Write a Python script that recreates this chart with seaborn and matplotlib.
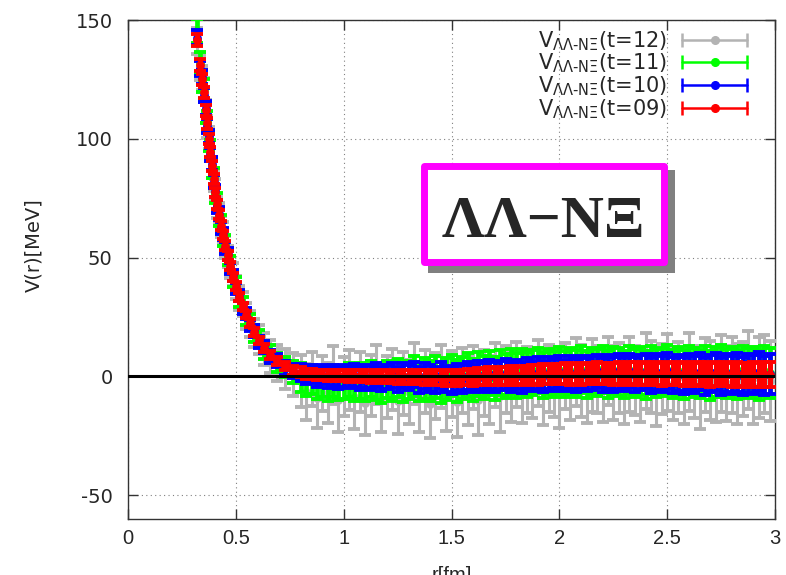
import matplotlib
matplotlib.use("Agg")
import matplotlib.pyplot as plt
import numpy as np
import pandas as pd
import seaborn as sns
from matplotlib.lines import Line2D
from matplotlib.patches import Rectangle
from matplotlib.legend_handler import HandlerLine2D

# ---------------------------------------------------------------- data
# separations r [fm]
r_fm = [
    0.318, 0.335, 0.345, 0.352, 0.360, 0.367, 0.374, 0.381, 0.389, 0.397,
    0.405, 0.413, 0.422, 0.431, 0.441, 0.451, 0.462, 0.474, 0.487, 0.500,
    0.515, 0.531, 0.548, 0.566, 0.586, 0.608, 0.632, 0.660, 0.692, 0.728,
    0.765,
    0.800, 0.826, 0.851, 0.875, 0.900, 0.926, 0.950, 0.975, 1.001, 1.025,
    1.050, 1.076, 1.100, 1.125, 1.151, 1.175, 1.200, 1.226, 1.250, 1.275,
    1.301, 1.325, 1.350, 1.376, 1.400, 1.425, 1.451, 1.475, 1.500, 1.526,
    1.550, 1.575, 1.601, 1.625, 1.650, 1.676, 1.700, 1.725, 1.751, 1.775,
    1.800, 1.826, 1.850, 1.875, 1.901, 1.925, 1.950, 1.976, 2.000, 2.025,
    2.051, 2.075, 2.100, 2.126, 2.150, 2.175, 2.201, 2.225, 2.250, 2.276,
    2.300, 2.325, 2.351, 2.375, 2.400, 2.426, 2.450, 2.475, 2.501, 2.525,
    2.550, 2.576, 2.600, 2.625, 2.651, 2.675, 2.700, 2.726, 2.750, 2.775,
    2.801, 2.825, 2.850, 2.876, 2.900, 2.925, 2.951, 2.978,
]

# V(r) [MeV] and statistical errors, imaginary-time slices t = 12, 11, 10, 09
v_t12 = [
    141.0, 130.0, 125.5, 120.5, 111.5, 105.0, 100.5, 95.0, 88.0, 82.5,
    78.5, 71.0, 68.5, 63.0, 60.5, 54.5, 50.5, 46.0, 43.0, 37.5,
    33.0, 30.5, 25.5, 22.0, 18.4, 15.6, 11.5, 8.5, 5.5, 3.2,
    0.8,
    -2.0, -6.5, -1.0, -9.2, -3.0, -7.0, 0.5, -10.0, -4.2, -1.5,
    -8.8, -2.5, -11.0, -3.8, 0.8, -9.5, -4.5, -1.2, -10.2, -3.0,
    -6.6, 1.2, -9.0, -2.2, -11.5, -4.0, 0.0, -8.5, -3.2, -10.8,
    -1.8, -6.2, -0.5, -9.8, -2.8, -5.6, 0.6, -8.2, -1.4, -4.6,
    0.9, -4.8, -1.6, -3.0, 1.5, -5.5, -0.8, -2.4, -6.4, 0.2,
    -3.4, 1.8, -2.0, -5.0, 0.4, -1.2, -4.2, 2.2, -2.6, -0.6,
    -4.8, 1.0, -1.8, -3.6, 2.4, -0.2, -5.2, -1.0, 1.6, -3.0,
    -0.4, -4.4, 2.0, -2.2, -6.0, 0.6, -1.6, -3.8, 1.4, -2.8,
    0.8, -3.2, -1.0, 2.6, -4.0, -0.6, 1.2, -2.0,
]
e_t12 = [
    5.5, 5.2, 5.0, 4.9, 4.8, 4.7, 4.6, 4.5, 4.5, 4.4,
    4.4, 4.4, 4.4, 4.4, 4.5, 4.5, 4.6, 4.7, 4.8, 4.9,
    5.0, 5.2, 5.4, 5.6, 5.9, 6.2, 6.6, 7.0, 7.6, 8.3,
    9.2,
    11.0, 11.8, 11.4, 12.6, 11.6, 12.8, 12.2, 13.2, 12.5, 12.8,
    13.4, 12.6, 13.8, 13.0, 12.4, 14.0, 13.2, 12.8, 14.2, 13.4,
    13.6, 13.0, 14.4, 13.4, 14.6, 13.8, 13.2, 14.4, 13.7, 14.8,
    13.8, 14.3, 13.4, 14.8, 14.0, 14.4, 13.6, 15.0, 14.2, 14.6,
    13.6, 14.8, 14.0, 14.4, 13.8, 15.0, 14.2, 14.6, 15.2, 14.0,
    14.8, 14.2, 15.2, 14.6, 15.4, 14.0, 15.0, 14.4, 15.6, 14.8,
    15.2, 15.8, 14.6, 15.4, 16.0, 15.0, 15.6, 14.8, 16.2, 15.4,
    15.0, 15.8, 16.4, 15.2, 16.0, 15.6, 16.6, 15.4, 16.2, 15.8,
    16.0, 16.8, 15.6, 16.4, 16.2, 17.0, 16.4, 16.8,
]

v_t11 = [
    145.5, 132.0, 124.0, 121.0, 111.0, 107.5, 99.0, 95.5, 87.5, 84.0,
    76.5, 73.5, 67.0, 64.5, 58.5, 56.0, 50.0, 47.5, 41.0, 38.5,
    32.5, 30.0, 25.0, 23.0, 18.0, 15.8, 11.2, 9.3, 5.8, 4.0,
    1.8,
    -0.5, -2.0, -1.2, -3.1, -2.2, -3.5, -1.8, -3.0, -2.6, -1.5,
    -3.2, -2.0, -2.8, -1.0, -2.4, -3.3, -1.4, -2.2, -0.6, -2.7,
    -1.6, 0.2, -2.1, -0.9, -1.8, -0.3, -2.5, -1.2, 0.4, -1.9,
    -0.8, 0.6, -1.5, 0.9, -0.4, 1.3, -0.9, 1.6, 0.2, 1.9,
    0.5, 2.2, 0.9, 1.7, 2.6, 0.6, 2.1, 1.2, 2.8, 1.0,
    2.4, 1.3, 2.9, 0.8, 2.2, 1.6, 3.0, 1.1, 2.5, 1.8,
    0.9, 2.7, 1.5, 2.3, 0.6, 2.8, 1.4, 2.0, 2.9, 1.2,
    2.2, 0.7, 2.6, 1.5, 1.0, 2.4, 0.5, 1.9, 2.7, 1.1,
    2.0, 0.8, 2.5, 1.3, 1.8, 0.6, 2.2, 1.5,
]
e_t11 = [
    5.0, 4.6, 4.4, 4.3, 4.2, 4.1, 4.0, 3.9, 3.8, 3.7,
    3.6, 3.6, 3.5, 3.5, 3.4, 3.4, 3.3, 3.3, 3.3, 3.3,
    3.3, 3.3, 3.4, 3.4, 3.5, 3.6, 3.7, 3.8, 4.0, 4.2,
    4.5,
    6.0, 6.3, 6.2, 6.6, 6.5, 6.9, 6.8, 7.1, 7.0, 7.3,
    7.2, 7.5, 7.4, 7.7, 7.6, 7.9, 7.8, 8.1, 8.0, 8.2,
    8.1, 8.4, 8.3, 8.6, 8.5, 8.7, 8.6, 8.9, 8.8, 9.0,
    8.9, 9.1, 9.0, 9.2, 9.1, 9.3, 9.2, 9.4, 9.3, 9.5,
    9.4, 9.5, 9.5, 9.6, 9.5, 9.7, 9.6, 9.7, 9.6, 9.8,
    9.7, 9.8, 9.7, 9.9, 9.8, 9.9, 9.8, 10.0, 9.9, 10.0,
    9.9, 10.0, 10.1, 10.0, 10.1, 10.0, 10.2, 10.1, 10.2, 10.1,
    10.2, 10.3, 10.2, 10.3, 10.2, 10.4, 10.3, 10.4, 10.4, 10.3,
    10.4, 10.5, 10.4, 10.5, 10.5, 10.6, 10.6, 10.5,
]

v_t10 = [
    142.5, 129.5, 126.0, 118.5, 113.0, 105.5, 101.0, 93.5, 89.5, 82.0,
    78.0, 71.5, 68.5, 62.5, 60.0, 54.0, 51.5, 45.5, 42.5, 37.0,
    34.0, 28.5, 26.5, 21.5, 19.2, 14.5, 12.4, 8.4, 6.8, 3.6,
    2.4,
    1.5, 0.6, 1.2, -0.2, 0.8, -0.5, 0.4, -0.8, 0.2, -0.4,
    0.5, -0.9, 0.1, -0.6, 0.6, -1.0, -0.2, 0.4, -1.2, 0.3,
    -0.5, 0.8, -1.4, 0.2, -0.8, -1.6, 0.5, -1.1, -1.8, -0.4,
    -1.2, 0.3, -0.9, 0.6, -0.5, 0.9, -0.3, 0.4, 1.0, -0.2,
    0.8, -0.4, 1.2, 0.3, 1.5, 0.0, 1.3, 0.6, 1.8, 0.4,
    1.6, 0.5, 2.0, 0.8, 1.4, 2.2, 0.6, 1.8, 0.9, 2.1,
    1.0, 2.3, 0.7, 1.6, 2.0, 0.5, 1.9, 1.1, 2.2, 0.6,
    1.5, 0.4, 1.8, 0.8, 2.0, 0.3, 1.2, 1.7, 0.2, 1.4,
    0.6, 1.6, 0.1, 1.3, 0.8, 1.9, 0.4, 1.0,
]
e_t10 = [
    3.2, 3.1, 3.0, 3.0, 2.9, 2.9, 2.8, 2.8, 2.7, 2.7,
    2.6, 2.6, 2.6, 2.5, 2.5, 2.5, 2.4, 2.4, 2.4, 2.4,
    2.4, 2.4, 2.4, 2.4, 2.4, 2.5, 2.5, 2.6, 2.7, 2.8,
    2.9,
    3.6, 3.9, 3.8, 4.2, 4.1, 4.4, 4.3, 4.6, 4.7, 4.6,
    4.8, 4.7, 4.9, 5.0, 4.9, 5.1, 5.0, 5.2, 5.3, 5.2,
    5.3, 5.4, 5.5, 5.4, 5.6, 5.5, 5.7, 5.6, 5.8, 5.7,
    5.8, 5.9, 5.8, 6.0, 6.1, 6.0, 6.2, 6.1, 6.3, 6.2,
    6.3, 6.4, 6.5, 6.4, 6.6, 6.5, 6.7, 6.6, 6.8, 6.7,
    6.8, 6.9, 6.8, 7.0, 7.1, 7.0, 7.2, 7.1, 7.3, 7.2,
    7.3, 7.2, 7.4, 7.5, 7.4, 7.6, 7.5, 7.6, 7.7, 7.6,
    7.7, 7.8, 7.7, 7.9, 7.8, 8.0, 7.9, 8.0, 8.1, 8.0,
    8.1, 8.2, 8.1, 8.2, 8.3, 8.2, 8.3, 8.4,
]

v_t09 = [
    141.5, 131.0, 125.0, 119.5, 112.0, 106.5, 100.0, 94.5, 88.5, 83.0,
    77.5, 72.5, 68.0, 63.5, 59.5, 55.0, 51.0, 46.5, 42.0, 38.0,
    33.5, 29.5, 26.0, 22.5, 18.8, 15.2, 12.0, 9.0, 6.5, 4.2,
    2.6,
    1.8, 1.2, 0.9, 0.6, 0.7, 0.3, 0.5, 0.2, 0.4, 0.1,
    0.3, 0.0, 0.2, -0.1, 0.2, 0.0, -0.2, 0.1, -0.3, 0.0,
    -0.2, -0.4, -0.1, -0.5, -0.3, -0.6, -0.4, -0.8, -0.5, -0.7,
    -0.4, -0.2, -0.5, 0.0, -0.2, 0.2, 0.0, 0.3, 0.1, 0.4,
    0.3, 0.6, 0.4, 0.8, 0.6, 1.0, 0.8, 1.2, 1.0, 1.3,
    0.8, 1.2, 1.0, 1.3, 1.1, 1.4, 1.2, 1.3, 1.0, 1.4,
    1.1, 1.4, 1.2, 1.0, 1.3, 1.1, 1.2, 0.9, 1.1, 1.0,
    1.2, 0.9, 1.0, 0.8, 1.1, 0.9, 0.7, 1.0, 0.8, 0.9,
    0.6, 0.9, 0.7, 0.5, 0.8, 0.6, 0.9, 0.7,
]
e_t09 = [
    2.5, 2.4, 2.3, 2.3, 2.2, 2.2, 2.1, 2.1, 2.0, 2.0,
    2.0, 1.9, 1.9, 1.9, 1.8, 1.8, 1.8, 1.7, 1.7, 1.7,
    1.7, 1.6, 1.6, 1.6, 1.6, 1.6, 1.6, 1.6, 1.7, 1.7,
    1.8,
    2.0, 2.1, 2.1, 2.2, 2.2, 2.3, 2.3, 2.3, 2.4, 2.4,
    2.4, 2.5, 2.5, 2.5, 2.6, 2.6, 2.6, 2.7, 2.7, 2.8,
    2.8, 2.9, 2.9, 3.0, 3.0, 3.1, 3.1, 3.2, 3.2, 3.3,
    3.3, 3.4, 3.4, 3.5, 3.5, 3.6, 3.6, 3.7, 3.7, 3.8,
    3.8, 3.9, 3.9, 4.0, 4.0, 4.1, 4.1, 4.2, 4.2, 4.3,
    4.3, 4.3, 4.4, 4.4, 4.4, 4.5, 4.5, 4.5, 4.6, 4.6,
    4.6, 4.6, 4.7, 4.7, 4.7, 4.7, 4.8, 4.8, 4.8, 4.8,
    4.8, 4.9, 4.9, 4.9, 4.9, 5.0, 5.0, 5.0, 5.0, 5.0,
    5.1, 5.1, 5.1, 5.1, 5.2, 5.2, 5.2, 5.2,
]

series_t = ["12", "11", "10", "09"]
series_colors = ["#b3b3b3", "#00ff00", "#0000ff", "#ff0000"]
bar_widths = [2.2, 3.4, 3.4, 3.6]

x_ticks = [0.0, 0.5, 1.0, 1.5, 2.0, 2.5, 3.0]
x_tick_labels = ["0", "0.5", "1", "1.5", "2", "2.5", "3"]
y_ticks = [-50, 0, 50, 100, 150]
y_tick_labels = ["-50", "0", "50", "100", "150"]

# ---------------------------------------------------------------- frame
frames = []
for t, vals, errs in zip(series_t, [v_t12, v_t11, v_t10, v_t09],
                         [e_t12, e_t11, e_t10, e_t09]):
    frames.append(pd.DataFrame({"r": r_fm, "V": vals, "err": errs, "t": t}))
df = pd.concat(frames, ignore_index=True)

# ---------------------------------------------------------------- style
sns.set_style("ticks")
plt.rcParams["font.family"] = ["DejaVu Sans"]
plt.rcParams["mathtext.fontset"] = "dejavusans"
plt.rcParams["mathtext.default"] = "regular"
xfont = ["Liberation Sans", "DejaVu Sans"]

W, H = 786, 575
fig = plt.figure(figsize=(W / 100, H / 100), dpi=100)
L, R, T, B = 128, 775, 20, 519
ax = fig.add_axes([L / W, 1 - B / H, (R - L) / W, (B - T) / H])

def ax_x(px):
    return (px - L) / (R - L)

def ax_y(py):
    return (B - py) / (B - T)

# ---------------------------------------------------------------- data marks
for k, (t, color, bw) in enumerate(zip(series_t, series_colors, bar_widths)):
    sub = df[df["t"] == t]
    ax.errorbar(sub["r"], sub["V"], yerr=sub["err"], fmt="none",
                ecolor=color, elinewidth=bw, capsize=4.0, capthick=2.8,
                zorder=3 + 2 * k)
    sns.scatterplot(data=sub, x="r", y="V", color=color, s=40, linewidth=0,
                    ax=ax, zorder=4 + 2 * k, legend=False)

ax.axhline(0, color="black", lw=2.2, zorder=20)

# ---------------------------------------------------------------- axes
ax.set_xlim(0, 3)
ax.set_ylim(-60, 150)
ax.set_xticks(x_ticks, labels=x_tick_labels, fontsize=14.5, family=xfont)
ax.set_yticks(y_ticks, labels=y_tick_labels, fontsize=14)
ax.tick_params(axis="both", direction="in", length=7, width=1,
               top=True, right=True, color="#333333")
ax.tick_params(axis="x", pad=7.5)
ax.tick_params(axis="y", pad=11)
ax.grid(True, color="#808080", linestyle=(0, (1, 3)), linewidth=0.8)
ax.set_axisbelow(True)
for sp in ax.spines.values():
    sp.set_color("#333333")
    sp.set_linewidth(1.0)

ax.set_xlabel("r[fm]", fontsize=14.5, family=xfont)
ax.xaxis.set_label_coords(0.5, ax_y(566))
ax.set_ylabel("V(r)[MeV]", fontsize=14)
ax.yaxis.set_label_coords(ax_x(43), ax_y(245))

# ---------------------------------------------------------------- legend
handles, labels = [], []
handler_map = {}
for t, color in zip(series_t, series_colors):
    body = Line2D([], [], color=color, lw=1.8, marker="o", ms=5.5,
                  mec=color, mfc=color)
    caps = Line2D([], [], color=color, ls="none", marker="|", ms=10, mew=1.8)
    handler_map[caps] = HandlerLine2D(numpoints=2, marker_pad=0)
    handles.append((body, caps))
    labels.append(r"$V_{\Lambda\Lambda\text{-}N\Xi}$" + f"(t={t})")

ax.legend(handles, labels, handler_map=handler_map, loc="upper right",
          bbox_to_anchor=(ax_x(747), ax_y(29)), frameon=False,
          markerfirst=False, fontsize=15, handlelength=3.1,
          handletextpad=0.72, labelspacing=-0.04, borderpad=0,
          borderaxespad=0)

# ---------------------------------------------------------------- channel box
ax.add_patch(Rectangle((ax_x(428), ax_y(273)), ax_x(675) - ax_x(428),
                       ax_y(170) - ax_y(273), transform=ax.transAxes,
                       facecolor="#808080", edgecolor="none", zorder=30))
ax.add_patch(Rectangle((ax_x(423.5), ax_y(261.5)),
                       ax_x(663.5) - ax_x(423.5), ax_y(165.5) - ax_y(261.5),
                       transform=ax.transAxes, facecolor="white",
                       edgecolor="#ff00ff", lw=5, joinstyle="round",
                       zorder=31))
ax.text(ax_x(543), ax_y(237), "ΛΛ−NΞ", transform=ax.transAxes,
        ha="center", va="baseline", fontsize=43, fontweight="bold",
        family=["Liberation Serif", "DejaVu Serif"], zorder=32)

fig.savefig("out.png", dpi=100)
